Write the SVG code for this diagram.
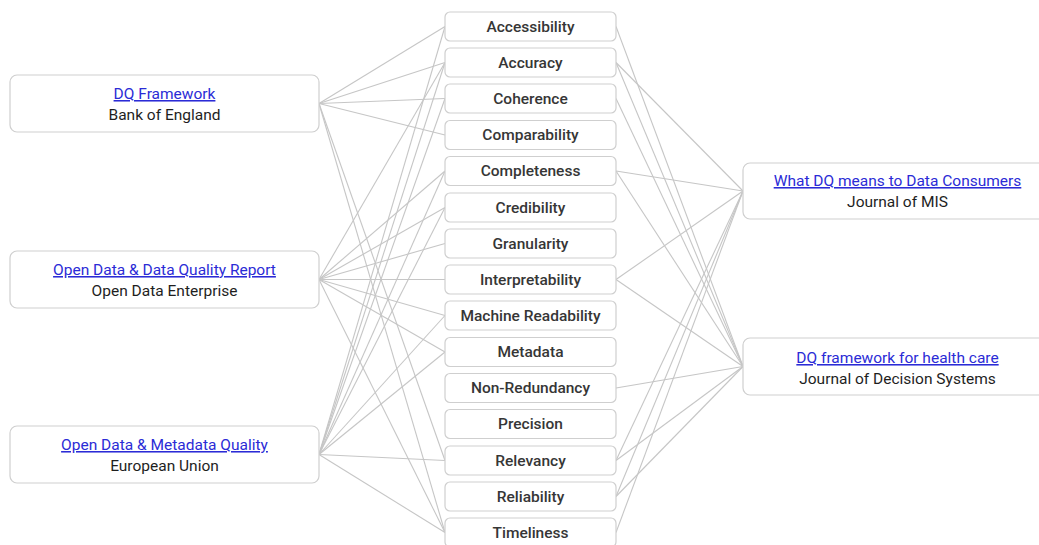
<svg xmlns="http://www.w3.org/2000/svg" width="1039" height="545" viewBox="0 0 1039 545">
<style>
.bg{fill:#ffffff}
.box{fill:#ffffff;stroke:#cfcfcf;stroke-width:1.2}
.c line{stroke:#c6c6c6;stroke-width:1.1}
.dim{font-family:Roboto,"Liberation Sans",sans-serif;font-size:15.5px;font-weight:500;fill:#363636;text-anchor:middle}
.link{font-family:Roboto,"Liberation Sans",sans-serif;font-size:15.5px;fill:#2b2bd6;text-anchor:middle;text-decoration:underline}
.sub{font-family:Roboto,"Liberation Sans",sans-serif;font-size:15.5px;fill:#1e1e1e;text-anchor:middle}
</style>
<rect class="bg" x="0" y="0" width="1039" height="545"/>
<g id="connectors" class="c">
<line x1="319" y1="103.5" x2="445" y2="26.5"/>
<line x1="319" y1="103.5" x2="445" y2="62.5"/>
<line x1="319" y1="103.5" x2="445" y2="98.5"/>
<line x1="319" y1="103.5" x2="445" y2="135"/>
<line x1="319" y1="103.5" x2="445" y2="460.5"/>
<line x1="319" y1="103.5" x2="445" y2="532.5"/>
<line x1="319" y1="279.5" x2="445" y2="62.5"/>
<line x1="319" y1="279.5" x2="445" y2="171"/>
<line x1="319" y1="279.5" x2="445" y2="207.5"/>
<line x1="319" y1="279.5" x2="445" y2="243.5"/>
<line x1="319" y1="279.5" x2="445" y2="279.5"/>
<line x1="319" y1="279.5" x2="445" y2="315.5"/>
<line x1="319" y1="279.5" x2="445" y2="352"/>
<line x1="319" y1="279.5" x2="445" y2="532.5"/>
<line x1="319" y1="454.5" x2="445" y2="26.5"/>
<line x1="319" y1="454.5" x2="445" y2="62.5"/>
<line x1="319" y1="454.5" x2="445" y2="98.5"/>
<line x1="319" y1="454.5" x2="445" y2="171"/>
<line x1="319" y1="454.5" x2="445" y2="207.5"/>
<line x1="319" y1="454.5" x2="445" y2="315.5"/>
<line x1="319" y1="454.5" x2="445" y2="352"/>
<line x1="319" y1="454.5" x2="445" y2="460.5"/>
<line x1="319" y1="454.5" x2="445" y2="532.5"/>
<line x1="616" y1="62.5" x2="743" y2="191"/>
<line x1="616" y1="171" x2="743" y2="191"/>
<line x1="616" y1="279.5" x2="743" y2="191"/>
<line x1="616" y1="460.5" x2="743" y2="191"/>
<line x1="616" y1="496.5" x2="743" y2="191"/>
<line x1="616" y1="532.5" x2="743" y2="191"/>
<line x1="616" y1="26.5" x2="743" y2="366.5"/>
<line x1="616" y1="62.5" x2="743" y2="366.5"/>
<line x1="616" y1="98.5" x2="743" y2="366.5"/>
<line x1="616" y1="171" x2="743" y2="366.5"/>
<line x1="616" y1="279.5" x2="743" y2="366.5"/>
<line x1="616" y1="388" x2="743" y2="366.5"/>
<line x1="616" y1="460.5" x2="743" y2="366.5"/>
<line x1="616" y1="496.5" x2="743" y2="366.5"/>
</g>
<g id="src-boe"><rect class="box" x="10" y="75" width="309" height="57" rx="7"/><text class="link" x="164.5" y="99">DQ Framework</text><text class="sub" x="164.5" y="120">Bank of England</text></g>
<g id="src-ode"><rect class="box" x="10" y="251" width="309" height="57" rx="7"/><text class="link" x="164.5" y="275">Open Data &amp; Data Quality Report</text><text class="sub" x="164.5" y="296">Open Data Enterprise</text></g>
<g id="src-eu"><rect class="box" x="10" y="426" width="309" height="57" rx="7"/><text class="link" x="164.5" y="450">Open Data &amp; Metadata Quality</text><text class="sub" x="164.5" y="471">European Union</text></g>
<g id="src-mis"><rect class="box" x="743" y="163" width="309" height="56" rx="7"/><text class="link" x="897.5" y="186">What DQ means to Data Consumers</text><text class="sub" x="897.5" y="207">Journal of MIS</text></g>
<g id="src-jds"><rect class="box" x="743" y="338" width="309" height="57" rx="7"/><text class="link" x="897.5" y="363">DQ framework for health care</text><text class="sub" x="897.5" y="384">Journal of Decision Systems</text></g>
<g id="d-accessibility"><rect class="box" x="445" y="12" width="171" height="29" rx="5"/><text class="dim" x="530.5" y="31.5">Accessibility</text></g>
<g id="d-accuracy"><rect class="box" x="445" y="48" width="171" height="29" rx="5"/><text class="dim" x="530.5" y="67.5">Accuracy</text></g>
<g id="d-coherence"><rect class="box" x="445" y="84" width="171" height="29" rx="5"/><text class="dim" x="530.5" y="103.5">Coherence</text></g>
<g id="d-comparability"><rect class="box" x="445" y="120.5" width="171" height="29" rx="5"/><text class="dim" x="530.5" y="140">Comparability</text></g>
<g id="d-completeness"><rect class="box" x="445" y="156.5" width="171" height="29" rx="5"/><text class="dim" x="530.5" y="176">Completeness</text></g>
<g id="d-credibility"><rect class="box" x="445" y="193" width="171" height="29" rx="5"/><text class="dim" x="530.5" y="212.5">Credibility</text></g>
<g id="d-granularity"><rect class="box" x="445" y="229" width="171" height="29" rx="5"/><text class="dim" x="530.5" y="248.5">Granularity</text></g>
<g id="d-interpretability"><rect class="box" x="445" y="265" width="171" height="29" rx="5"/><text class="dim" x="530.5" y="284.5">Interpretability</text></g>
<g id="d-machine-readability"><rect class="box" x="445" y="301" width="171" height="29" rx="5"/><text class="dim" x="530.5" y="320.5">Machine Readability</text></g>
<g id="d-metadata"><rect class="box" x="445" y="337.5" width="171" height="29" rx="5"/><text class="dim" x="530.5" y="357">Metadata</text></g>
<g id="d-non-redundancy"><rect class="box" x="445" y="373.5" width="171" height="29" rx="5"/><text class="dim" x="530.5" y="393">Non-Redundancy</text></g>
<g id="d-precision"><rect class="box" x="445" y="409.5" width="171" height="29" rx="5"/><text class="dim" x="530.5" y="429">Precision</text></g>
<g id="d-relevancy"><rect class="box" x="445" y="446" width="171" height="29" rx="5"/><text class="dim" x="530.5" y="465.5">Relevancy</text></g>
<g id="d-reliability"><rect class="box" x="445" y="482" width="171" height="29" rx="5"/><text class="dim" x="530.5" y="501.5">Reliability</text></g>
<g id="d-timeliness"><rect class="box" x="445" y="518" width="171" height="29" rx="5"/><text class="dim" x="530.5" y="537.5">Timeliness</text></g>
</svg>
